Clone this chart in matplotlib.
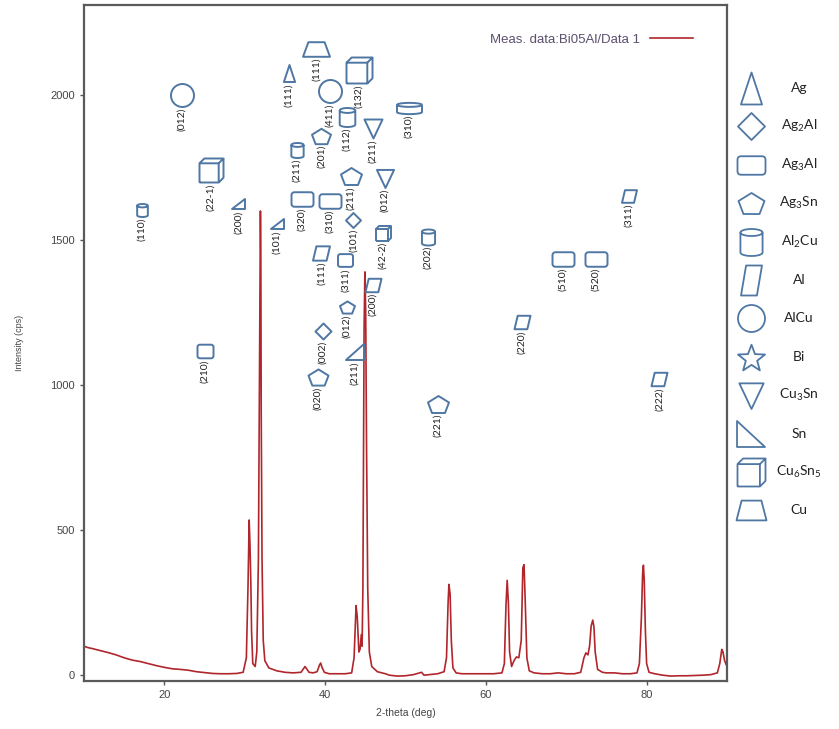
import numpy as np
import matplotlib.pyplot as plt
from matplotlib.path import Path

plt.rcParams['font.family'] = ['Liberation Sans', 'DejaVu Sans']
plt.rcParams['mathtext.default'] = 'regular'

# XRD trace, key points
two_theta = [10.0, 10.5, 11, 12, 13, 14, 15, 16, 17, 18, 19, 20, 21, 22, 23, 24, 25, 26, 27, 28, 29, 29.8,
             30.2, 30.4, 30.55, 30.65, 30.75, 30.85, 31.0, 31.3, 31.5, 31.7, 31.8, 31.9, 31.95, 32.0, 32.05,
             32.15, 32.3, 32.5, 33, 34, 35, 36, 37, 37.3, 37.5, 37.7, 38.0, 38.5, 39.0, 39.3, 39.45, 39.6,
             39.9, 40.5, 41.5, 42.5, 43.3, 43.6, 43.85, 44.0, 44.2, 44.35, 44.5, 44.6, 44.7, 44.85, 44.95,
             45.05, 45.15, 45.3, 45.5, 45.8, 46.5, 47.5, 48, 49, 50, 51, 52, 52.3, 53, 54, 54.8, 55.1, 55.3,
             55.4, 55.55, 55.7, 55.9, 56.3, 57, 58, 59, 60, 61, 62, 62.3, 62.5, 62.65, 62.8, 62.95, 63.2, 63.5,
             63.8, 64.1, 64.4, 64.6, 64.75, 64.9, 65.1, 65.4, 66, 67, 68, 69, 70, 71, 71.8, 72.2, 72.45, 72.7,
             72.9, 73.1, 73.3, 73.45, 73.6, 73.9, 74.5, 75, 76, 77, 78, 78.8, 79.1, 79.35, 79.5, 79.6, 79.7,
             79.85, 80.0, 80.3, 81, 82, 83, 84, 85, 86, 87, 88, 88.8, 89.1, 89.35, 89.5, 89.7, 90]
intensity = [100, 95, 92, 85, 78, 70, 60, 52, 47, 40, 33, 27, 22, 20, 17, 12, 9, 6, 5, 5, 6, 10,
             60, 300, 535, 450, 330, 150, 40, 30, 80, 400, 900, 1460, 1600, 1450, 900,
             400, 120, 50, 25, 15, 10, 8, 10, 22, 30, 22, 10, 8, 12, 35, 42, 28,
             10, 5, 5, 5, 8, 60, 240, 200, 80, 90, 140, 100, 300, 1200, 1390,
             1250, 800, 300, 80, 30, 12, 5, 0, -3, -2, 2, 10, 0, 2, 5, 12, 60, 250,
             313, 280, 120, 25, 8, 5, 5, 5, 5, 5, 8, 40, 240, 327, 250, 80, 30, 50,
             63, 60, 120, 370, 381, 250, 60, 15, 8, 5, 5, 8, 5, 5, 10, 60, 77, 70,
             100, 170, 190, 165, 80, 20, 10, 8, 8, 5, 5, 8, 40, 200, 350, 379, 330,
             150, 40, 10, 5, 0, -3, -2, -2, -1, 0, 2, 8, 40, 89, 80, 50, 30]

# indexed reflections: phase, hkl, 2-theta and height of the symbol (cps)
refl_phase = ['AlCu', 'Cu6Sn5', 'Sn', 'Al2Cu', 'Sn', 'Ag', 'Cu', 'AlCu', 'Cu6Sn5', 'Al2Cu', 'Ag3Sn', 'Al2Cu',
              'Cu3Sn', 'Ag3Sn', 'Cu3Sn', 'Ag3Al', 'Ag3Al', 'Ag2Al', 'Cu6Sn5', 'Al', 'Ag3Al', 'Al', 'Ag3Sn',
              'Al2Cu', 'Al2Cu', 'Ag2Al', 'Ag3Sn', 'Sn', 'Ag3Al', 'Ag3Sn', 'Al', 'Ag3Al', 'Ag3Al', 'Al', 'Al']
refl_hkl = ['(012)', '(22-1)', '(200)', '(110)', '(101)', '(111)', '(111)', '(411)', '(132)', '(112)', '(201)',
            '(211)', '(211)', '(211)', '(012)', '(320)', '(310)', '(101)', '(42-2)', '(111)', '(311)', '(200)',
            '(012)', '(310)', '(202)', '(002)', '(020)', '(211)', '(210)', '(221)', '(220)', '(510)', '(520)',
            '(222)', '(311)']
refl_2theta = [22.2, 25.8, 29.2, 17.2, 34.0, 35.5, 38.9, 40.6, 44.2, 42.7, 39.5, 36.5, 45.9, 43.2, 47.4, 37.1,
               40.6, 43.5, 47.2, 39.5, 42.5, 45.9, 42.7, 50.4, 52.8, 39.7, 39.1, 43.7, 25.0, 54.0, 64.5, 69.6,
               73.7, 81.6, 77.8]
refl_level = [2000, 1740, 1625, 1605, 1555, 2075, 2160, 2015, 2085, 1925, 1860, 1810, 1885, 1720, 1715, 1643,
              1636, 1570, 1525, 1455, 1430, 1345, 1270, 1955, 1512, 1185, 1027, 1113, 1117, 935, 1216, 1436,
              1436, 1020, 1653]

legend_phases = ['Ag', 'Ag2Al', 'Ag3Al', 'Ag3Sn', 'Al2Cu', 'Al', 'AlCu', 'Bi', 'Cu3Sn', 'Sn', 'Cu6Sn5', 'Cu']
legend_labels = ['Ag', 'Ag$_2$Al', 'Ag$_3$Al', 'Ag$_3$Sn', 'Al$_2$Cu', 'Al', 'AlCu', 'Bi', 'Cu$_3$Sn', 'Sn',
                 'Cu$_6$Sn$_5$', 'Cu']

# symbol size in pixels for each reflection (and a few squat variants)
refl_px = [23, 24, 13, 13, 13, 17, 27, 23, 26, 19, 19, 15, 20, 21, 19, 22, 22, 15, 15, 17, 15, 16, 15, 25,
           16, 16, 20, 18, 16, 21, 16, 22, 22, 16, 15]
shape_override = {23: 'Al2Cu_wide', 20: 'Ag3Al_sq', 28: 'Ag3Al_sq'}
legend_px = [32, 27, 28, 26, 27, 30, 27, 27, 27, 28, 28, 30]


def poly(pts):
    pts = list(pts) + [pts[0]]
    return Path(pts, [Path.MOVETO] + [Path.LINETO] * (len(pts) - 2) + [Path.CLOSEPOLY])


def rounded_rect(w, h, r):
    x0, x1, y0, y1 = -w / 2, w / 2, -h / 2, h / 2
    v = [(x0 + r, y0), (x1 - r, y0), (x1, y0), (x1, y0 + r), (x1, y1 - r), (x1, y1), (x1 - r, y1),
         (x0 + r, y1), (x0, y1), (x0, y1 - r), (x0, y0 + r), (x0, y0), (x0 + r, y0)]
    c = [Path.MOVETO, Path.LINETO, Path.CURVE3, Path.CURVE3, Path.LINETO, Path.CURVE3, Path.CURVE3,
         Path.LINETO, Path.CURVE3, Path.CURVE3, Path.LINETO, Path.CURVE3, Path.CURVE3]
    return Path(v, c)


def cylinder(w, h, e):
    t = np.linspace(0, 2 * np.pi, 40)
    top = np.column_stack([w / 2 * np.cos(t), h / 2 - e / 2 + e / 2 * np.sin(t)])
    tb = np.linspace(np.pi, 2 * np.pi, 20)
    bot = np.column_stack([w / 2 * np.cos(tb), -h / 2 + e / 2 + e / 2 * np.sin(tb)])
    side = np.vstack([[(-w / 2, h / 2 - e / 2)], bot, [(w / 2, h / 2 - e / 2)]])
    codes = [Path.MOVETO] + [Path.LINETO] * (len(top) - 1) + [Path.MOVETO] + [Path.LINETO] * (len(side) - 1)
    return Path(np.vstack([top, side]), codes)


def cube(d):
    s = 1 - d
    x0 = y0 = -0.5
    v = [(x0, y0), (x0 + s, y0), (x0 + s, y0 + s), (x0, y0 + s), (x0, y0),
         (x0, y0 + s), (x0 + d, 0.5), (0.5, 0.5), (x0 + s, y0 + s),
         (x0 + s, y0), (0.5, y0 + d), (0.5, 0.5)]
    c = [Path.MOVETO] + [Path.LINETO] * 4 + [Path.MOVETO] + [Path.LINETO] * 3 + [Path.MOVETO] + [Path.LINETO] * 2
    return Path(v, c)


def pentagon(sy):
    a = np.deg2rad(90 + 72 * np.arange(5))
    return poly(list(zip(0.5 * np.cos(a), (0.5 * np.sin(a) - 0.048) * sy)))


def star():
    a = np.deg2rad(90 + 36 * np.arange(10))
    r = np.where(np.arange(10) % 2 == 0, 0.5, 0.21)
    return poly(list(zip(r * np.cos(a), r * np.sin(a) - 0.05)))


shapes = {
    'Ag': poly([(-0.33, -0.5), (0.33, -0.5), (0, 0.5)]),
    'Ag2Al': poly([(0, -0.5), (0.5, 0), (0, 0.5), (-0.5, 0)]),
    'Ag3Al': rounded_rect(1.0, 0.66, 0.13),
    'Ag3Al_sq': rounded_rect(1.0, 0.85, 0.15),
    'Ag3Sn': pentagon(0.85),
    'Al2Cu': cylinder(0.82, 1.0, 0.26),
    'Al2Cu_wide': cylinder(1.0, 0.45, 0.16),
    'Al': poly([(-0.5, -0.42), (0.3, -0.42), (0.5, 0.42), (-0.3, 0.42)]),
    'AlCu': 'o',
    'Bi': star(),
    'Cu3Sn': poly([(-0.45, 0.45), (0.45, 0.45), (0, -0.5)]),
    'Sn': poly([(-0.5, -0.42), (0.5, -0.42), (0.5, 0.42)]),
    'Cu6Sn5': cube(0.2),
    'Cu': poly([(-0.5, -0.27), (0.5, -0.27), (0.3, 0.27), (-0.3, 0.27)]),
}
legend_shapes = dict(shapes)
legend_shapes['Al'] = poly([(-0.35, -0.5), (0.18, -0.5), (0.35, 0.5), (-0.18, 0.5)])
legend_shapes['Sn'] = poly([(-0.5, 0.45), (-0.5, -0.45), (0.5, -0.45)])
legend_shapes['Cu'] = poly([(-0.5, -0.33), (0.5, -0.33), (0.33, 0.33), (-0.33, 0.33)])


def bottom_frac(shape):
    if isinstance(shape, str):
        return -0.5
    v = shape.vertices
    return v[:, 1].min() * 0.5 / np.abs(v).max()


blue = '#4f77a3'
red = '#b0262c'
grey = '#555555'

fig = plt.figure(figsize=(8.39, 7.29), dpi=100)
ax = fig.add_axes([84 / 839, 1 - 681 / 729, 643 / 839, 676 / 729])

ax.plot(two_theta, intensity, color=red, lw=1.2, label='Meas. data:Bi05Al/Data 1', zorder=2)

for i, (ph, hkl, x, y, px) in enumerate(zip(refl_phase, refl_hkl, refl_2theta, refl_level, refl_px)):
    shp = shapes[shape_override.get(i, ph)]
    ms = px * 0.72
    ax.plot(x, y, marker=shp, ms=ms, mfc='none', mec=blue, mew=1.4, ls='none', zorder=3)
    ax.annotate(hkl, (x, y), xytext=(0, bottom_frac(shp) * ms - 1), textcoords='offset points',
                rotation=90, ha='center', va='top', fontsize=7.5, color='#222222', family='Lato', zorder=4)

ax.set_xlim(10, 90)
ax.set_ylim(-20, 2310)
ax.set_xticks([20, 40, 60, 80])
ax.set_yticks([0, 500, 1000, 1500, 2000])
ax.tick_params(direction='out', length=3, width=1, colors=grey, labelsize=8, labelcolor='#444444')
for s in ax.spines.values():
    s.set_color('#5a5a5a')
    s.set_linewidth(1.6)
ax.set_xlabel('2-theta (deg)', fontsize=7.5, color='#444444', labelpad=6)
ax.set_ylabel('Intensity (cps)', fontsize=6.5, color='#444444', labelpad=19)

leg = ax.legend(loc='upper right', bbox_to_anchor=(0.965, 0.975), frameon=False, markerfirst=False,
                fontsize=9.5, handlelength=3.2, labelcolor='#5b4f6e')

# phase key to the right of the plot, in figure pixels
key = fig.add_axes([0, 0, 1, 1], facecolor='none')
key.set_xlim(0, 839)
key.set_ylim(729, 0)
key.axis('off')
for i, (ph, lab, px) in enumerate(zip(legend_phases, legend_labels, legend_px)):
    yk = 88 + i * 38.4
    key.plot(751, yk, marker=legend_shapes[ph], ms=px * 0.72, mfc='none', mec=blue, mew=1.3, ls='none')
    key.text(799, yk, lab, ha='center', va='center', fontsize=10, color='#222222', family='Lato')

fig.savefig('out.png', dpi=100)
